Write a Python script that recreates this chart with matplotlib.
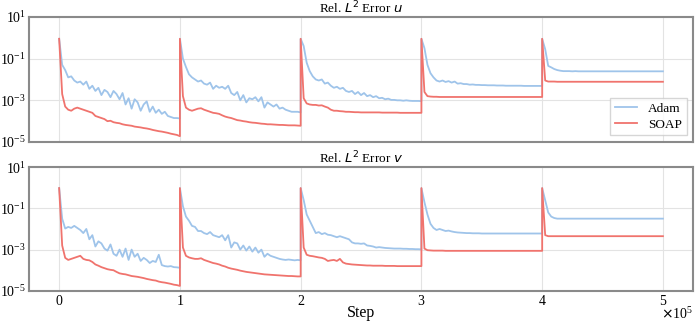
import numpy as np
import matplotlib
matplotlib.use("Agg")
import matplotlib.pyplot as plt
from matplotlib.ticker import FixedLocator, NullLocator

plt.rcParams['font.family'] = ['Liberation Serif', 'DejaVu Serif']
plt.rcParams['mathtext.fontset'] = 'dejavusans'

# log10 of the error, read every 2500 steps inside each 1e5-step restart segment
seg_offsets = np.arange(41) * 2500
n_seg = 5

# --- u component ---
adam_u = [
    [-0.05, -1.3, -1.55, -1.9, -1.85, -2.05, -2.15, -2.1, -2.25, -2.1, -2.45, -2.3, -2.55, -2.4, -2.75, -2.5, -2.6, -2.85, -2.55, -2.7,
     -2.95, -2.65, -3.2, -2.9, -3.4, -2.95, -3.1, -3.5, -3.2, -3.05, -3.55, -3.3, -3.6, -3.45, -3.65, -3.55, -3.75, -3.8, -3.85, -3.85, -3.87],
    [-0.05, -1.0, -1.4, -1.75, -1.9, -2.0, -2.1, -2.05, -2.2, -2.25, -2.15, -2.45, -2.3, -2.4, -2.35, -2.45, -2.3, -2.65, -2.75, -2.6,
     -3.0, -2.75, -3.1, -2.9, -2.95, -2.85, -3.05, -2.85, -3.35, -3.1, -3.2, -3.3, -3.2, -3.4, -3.35, -3.45, -3.5, -3.55, -3.55, -3.55, -3.58],
    [-0.05, -0.4, -1.2, -1.6, -1.85, -2.0, -2.05, -2.0, -2.2, -2.15, -2.3, -2.4, -2.35, -2.45, -2.4, -2.55, -2.6, -2.55, -2.7, -2.6,
     -2.75, -2.65, -2.8, -2.75, -2.85, -2.8, -2.9, -2.88, -2.95, -2.92, -2.98, -2.98, -3.0, -3.0, -3.02, -3.0, -3.02, -3.03, -3.03, -3.03, -3.04],
    [-0.05, -0.5, -1.3, -1.7, -1.9, -2.05, -2.1, -2.05, -2.12, -2.08, -2.15, -2.1, -2.2, -2.18, -2.22, -2.22, -2.25, -2.24, -2.26, -2.26,
     -2.27, -2.27, -2.28, -2.28, -2.28, -2.29, -2.29, -2.29, -2.3, -2.3, -2.3, -2.3, -2.3, -2.3, -2.31, -2.31, -2.31, -2.31, -2.31, -2.31, -2.31],
    [-0.05, -0.55, -1.35, -1.42, -1.5, -1.55, -1.58, -1.6, -1.6, -1.6, -1.61, -1.6, -1.61, -1.61, -1.61, -1.61, -1.61, -1.61, -1.61, -1.61,
     -1.61, -1.61, -1.61, -1.61, -1.61, -1.61, -1.61, -1.61, -1.61, -1.61, -1.61, -1.61, -1.61, -1.61, -1.61, -1.61, -1.61, -1.61, -1.61, -1.61, -1.61],
]
soap_u = [
    [-0.05, -2.7, -3.3, -3.45, -3.5, -3.4, -3.35, -3.4, -3.45, -3.5, -3.55, -3.6, -3.75, -3.8, -3.85, -3.9, -4.0, -3.98, -4.05, -4.08,
     -4.1, -4.15, -4.18, -4.2, -4.22, -4.26, -4.28, -4.3, -4.33, -4.35, -4.38, -4.42, -4.45, -4.48, -4.5, -4.53, -4.56, -4.6, -4.63, -4.66, -4.72],
    [-0.05, -2.8, -3.35, -3.45, -3.5, -3.45, -3.4, -3.38, -3.45, -3.5, -3.55, -3.6, -3.62, -3.65, -3.72, -3.78, -3.82, -3.85, -3.9, -3.95,
     -3.97, -4.0, -4.02, -4.05, -4.07, -4.08, -4.1, -4.12, -4.13, -4.15, -4.15, -4.16, -4.17, -4.18, -4.18, -4.19, -4.2, -4.2, -4.2, -4.21, -4.22],
    [-0.05, -2.9, -3.15, -3.2, -3.22, -3.22, -3.25, -3.24, -3.3, -3.35, -3.45, -3.5, -3.5, -3.52, -3.53, -3.55, -3.55, -3.56, -3.57, -3.57,
     -3.58, -3.58, -3.58, -3.58, -3.58, -3.58, -3.58, -3.59, -3.59, -3.59, -3.59, -3.59, -3.59, -3.6, -3.6, -3.6, -3.6, -3.6, -3.6, -3.6, -3.6],
    [-0.05, -2.6, -2.8, -2.82, -2.83, -2.83, -2.84, -2.84, -2.84, -2.84, -2.84, -2.84, -2.84, -2.84, -2.84, -2.84, -2.84, -2.84, -2.84, -2.84,
     -2.84, -2.84, -2.84, -2.84, -2.84, -2.84, -2.84, -2.84, -2.84, -2.84, -2.84, -2.84, -2.84, -2.84, -2.84, -2.84, -2.84, -2.84, -2.84, -2.84, -2.84],
    [-0.05, -2.05, -2.1, -2.1, -2.1, -2.11, -2.11, -2.11, -2.11, -2.11, -2.11, -2.11, -2.11, -2.11, -2.11, -2.11, -2.11, -2.11, -2.11, -2.11,
     -2.11, -2.11, -2.11, -2.11, -2.11, -2.11, -2.11, -2.11, -2.11, -2.11, -2.11, -2.11, -2.11, -2.11, -2.11, -2.11, -2.11, -2.11, -2.11, -2.11, -2.11],
]

# --- v component ---
adam_v = [
    [-0.02, -1.5, -1.98, -1.9, -1.95, -1.85, -1.95, -2.05, -2.2, -2.0, -2.5, -2.3, -2.85, -2.6, -2.7, -2.95, -3.05, -2.75, -3.2, -3.3,
     -3.0, -3.35, -2.95, -3.5, -3.0, -3.35, -3.2, -3.55, -3.4, -3.5, -3.65, -3.55, -3.6, -3.25, -3.75, -3.8, -3.82, -3.8, -3.85, -3.86, -3.88],
    [-0.02, -0.9, -1.4, -1.6, -1.85, -1.9, -2.1, -2.1, -2.2, -2.25, -2.15, -2.3, -2.35, -2.4, -2.3, -2.55, -2.3, -2.9, -2.65, -2.7,
     -3.0, -2.8, -3.05, -2.85, -3.1, -2.9, -3.15, -3.0, -3.35, -3.2, -3.3, -3.35, -3.4, -3.45, -3.48, -3.5, -3.48, -3.5, -3.52, -3.5, -3.52],
    [-0.02, -0.6, -1.3, -1.6, -1.9, -2.2, -2.15, -2.25, -2.2, -2.28, -2.3, -2.35, -2.4, -2.35, -2.4, -2.45, -2.5, -2.65, -2.7, -2.7,
     -2.72, -2.7, -2.8, -2.82, -2.85, -2.9, -2.88, -2.9, -2.92, -2.93, -2.94, -2.95, -2.95, -2.95, -2.96, -2.96, -2.97, -2.97, -2.98, -2.98, -2.99],
    [-0.02, -0.7, -1.3, -1.75, -1.95, -2.05, -2.0, -2.05, -2.1, -2.08, -2.12, -2.15, -2.17, -2.18, -2.19, -2.2, -2.2, -2.21, -2.21, -2.21,
     -2.22, -2.22, -2.22, -2.22, -2.22, -2.22, -2.22, -2.22, -2.22, -2.22, -2.22, -2.22, -2.22, -2.22, -2.22, -2.22, -2.22, -2.22, -2.22, -2.22, -2.22],
    [-0.02, -0.6, -1.2, -1.4, -1.47, -1.5, -1.5, -1.5, -1.5, -1.5, -1.5, -1.5, -1.5, -1.5, -1.5, -1.5, -1.5, -1.5, -1.5, -1.5,
     -1.5, -1.5, -1.5, -1.5, -1.5, -1.5, -1.5, -1.5, -1.5, -1.5, -1.5, -1.5, -1.5, -1.5, -1.5, -1.5, -1.5, -1.5, -1.5, -1.5, -1.5],
]
soap_v = [
    [-0.02, -2.8, -3.4, -3.5, -3.45, -3.4, -3.35, -3.3, -3.45, -3.5, -3.52, -3.6, -3.72, -3.78, -3.85, -3.9, -3.95, -3.98, -4.0, -4.08,
     -4.15, -4.18, -4.2, -4.24, -4.28, -4.3, -4.32, -4.35, -4.38, -4.42, -4.45, -4.48, -4.5, -4.55, -4.58, -4.6, -4.63, -4.66, -4.7, -4.72, -4.76],
    [-0.02, -2.9, -3.3, -3.38, -3.42, -3.45, -3.45, -3.42, -3.5, -3.55, -3.6, -3.65, -3.68, -3.72, -3.78, -3.82, -3.88, -3.92, -3.95, -3.98,
     -4.02, -4.05, -4.08, -4.1, -4.12, -4.14, -4.16, -4.18, -4.2, -4.21, -4.22, -4.23, -4.24, -4.25, -4.26, -4.27, -4.28, -4.28, -4.29, -4.3, -4.3],
    [-0.02, -2.9, -3.25, -3.3, -3.32, -3.35, -3.38, -3.4, -3.45, -3.55, -3.52, -3.5, -3.55, -3.45, -3.62, -3.68, -3.7, -3.72, -3.73, -3.74,
     -3.75, -3.76, -3.77, -3.77, -3.78, -3.78, -3.78, -3.78, -3.79, -3.79, -3.79, -3.79, -3.8, -3.8, -3.8, -3.8, -3.8, -3.8, -3.8, -3.8, -3.8],
    [-0.02, -2.95, -3.03, -3.04, -3.05, -3.05, -3.05, -3.05, -3.06, -3.06, -3.06, -3.06, -3.06, -3.06, -3.06, -3.06, -3.06, -3.06, -3.06, -3.06,
     -3.06, -3.06, -3.06, -3.06, -3.06, -3.06, -3.06, -3.06, -3.06, -3.06, -3.06, -3.06, -3.06, -3.06, -3.06, -3.06, -3.06, -3.06, -3.06, -3.06, -3.06],
    [-0.02, -2.3, -2.35, -2.35, -2.35, -2.35, -2.35, -2.35, -2.35, -2.35, -2.35, -2.35, -2.35, -2.35, -2.35, -2.35, -2.35, -2.35, -2.35, -2.35,
     -2.35, -2.35, -2.35, -2.35, -2.35, -2.35, -2.35, -2.35, -2.35, -2.35, -2.35, -2.35, -2.35, -2.35, -2.35, -2.35, -2.35, -2.35, -2.35, -2.35, -2.35],
]

titles = [r'Rel. $L^2$ Error $u$', r'Rel. $L^2$ Error $v$']
labels = ['Adam', 'SOAP']
colors = ['#9fc4ea', '#f0736d']


def stitch(segs):
    steps = np.concatenate([k * 100000 + seg_offsets for k in range(n_seg)])
    vals = np.concatenate([10.0 ** np.asarray(s) for s in segs])
    return steps, vals


fig = plt.figure(figsize=(6.98, 3.25), dpi=100)
ax1 = fig.add_axes([0.0415, 0.563, 0.9515, 0.385])
ax2 = fig.add_axes([0.0415, 0.105, 0.9515, 0.381])

for ax, data, title in zip([ax1, ax2], [(adam_u, soap_u), (adam_v, soap_v)], titles):
    for segs, lab, col in zip(data, labels, colors):
        x, y = stitch(segs)
        ax.plot(x, y, color=col, lw=1.3, label=lab)
    ax.set_yscale('log')
    ax.set_ylim(1e-5, 1e1)
    ax.yaxis.set_major_locator(FixedLocator([1e-5, 1e-3, 1e-1, 1e1]))
    ax.yaxis.set_minor_locator(NullLocator())
    ax.set_xlim(-25000, 525000)
    ax.set_xticks([0, 100000, 200000, 300000, 400000, 500000])
    ax.grid(True, color='#e3e3e3', lw=0.8)
    ax.set_axisbelow(True)
    ax.tick_params(length=0, labelsize=10, pad=2)
    for s in ax.spines.values():
        s.set_color('#8a8a8a')
        s.set_linewidth(1.5)
    ax.set_title(title, fontsize=9.5, pad=2.5)

ax1.tick_params(labelbottom=False)
ax2.ticklabel_format(axis='x', style='sci', scilimits=(0, 0), useMathText=True)
offset_txt = ax2.xaxis.get_offset_text()
offset_txt.set_fontsize(10)
offset_txt.set_verticalalignment('top')
# keep the x10^5 just under the last tick label, like the original figure
ax2.xaxis._update_offset_text_position = lambda b1, b2: offset_txt.set_position((1, 19))
ax2.set_xlabel('Step', fontsize=11.5, labelpad=-2)

leg = ax1.legend(loc='lower right', fontsize=9.5, fancybox=False, edgecolor='#cccccc',
                 handlelength=1.7, borderpad=0.35, labelspacing=0.3, handletextpad=0.8)

fig.savefig('out.png', dpi=100)
